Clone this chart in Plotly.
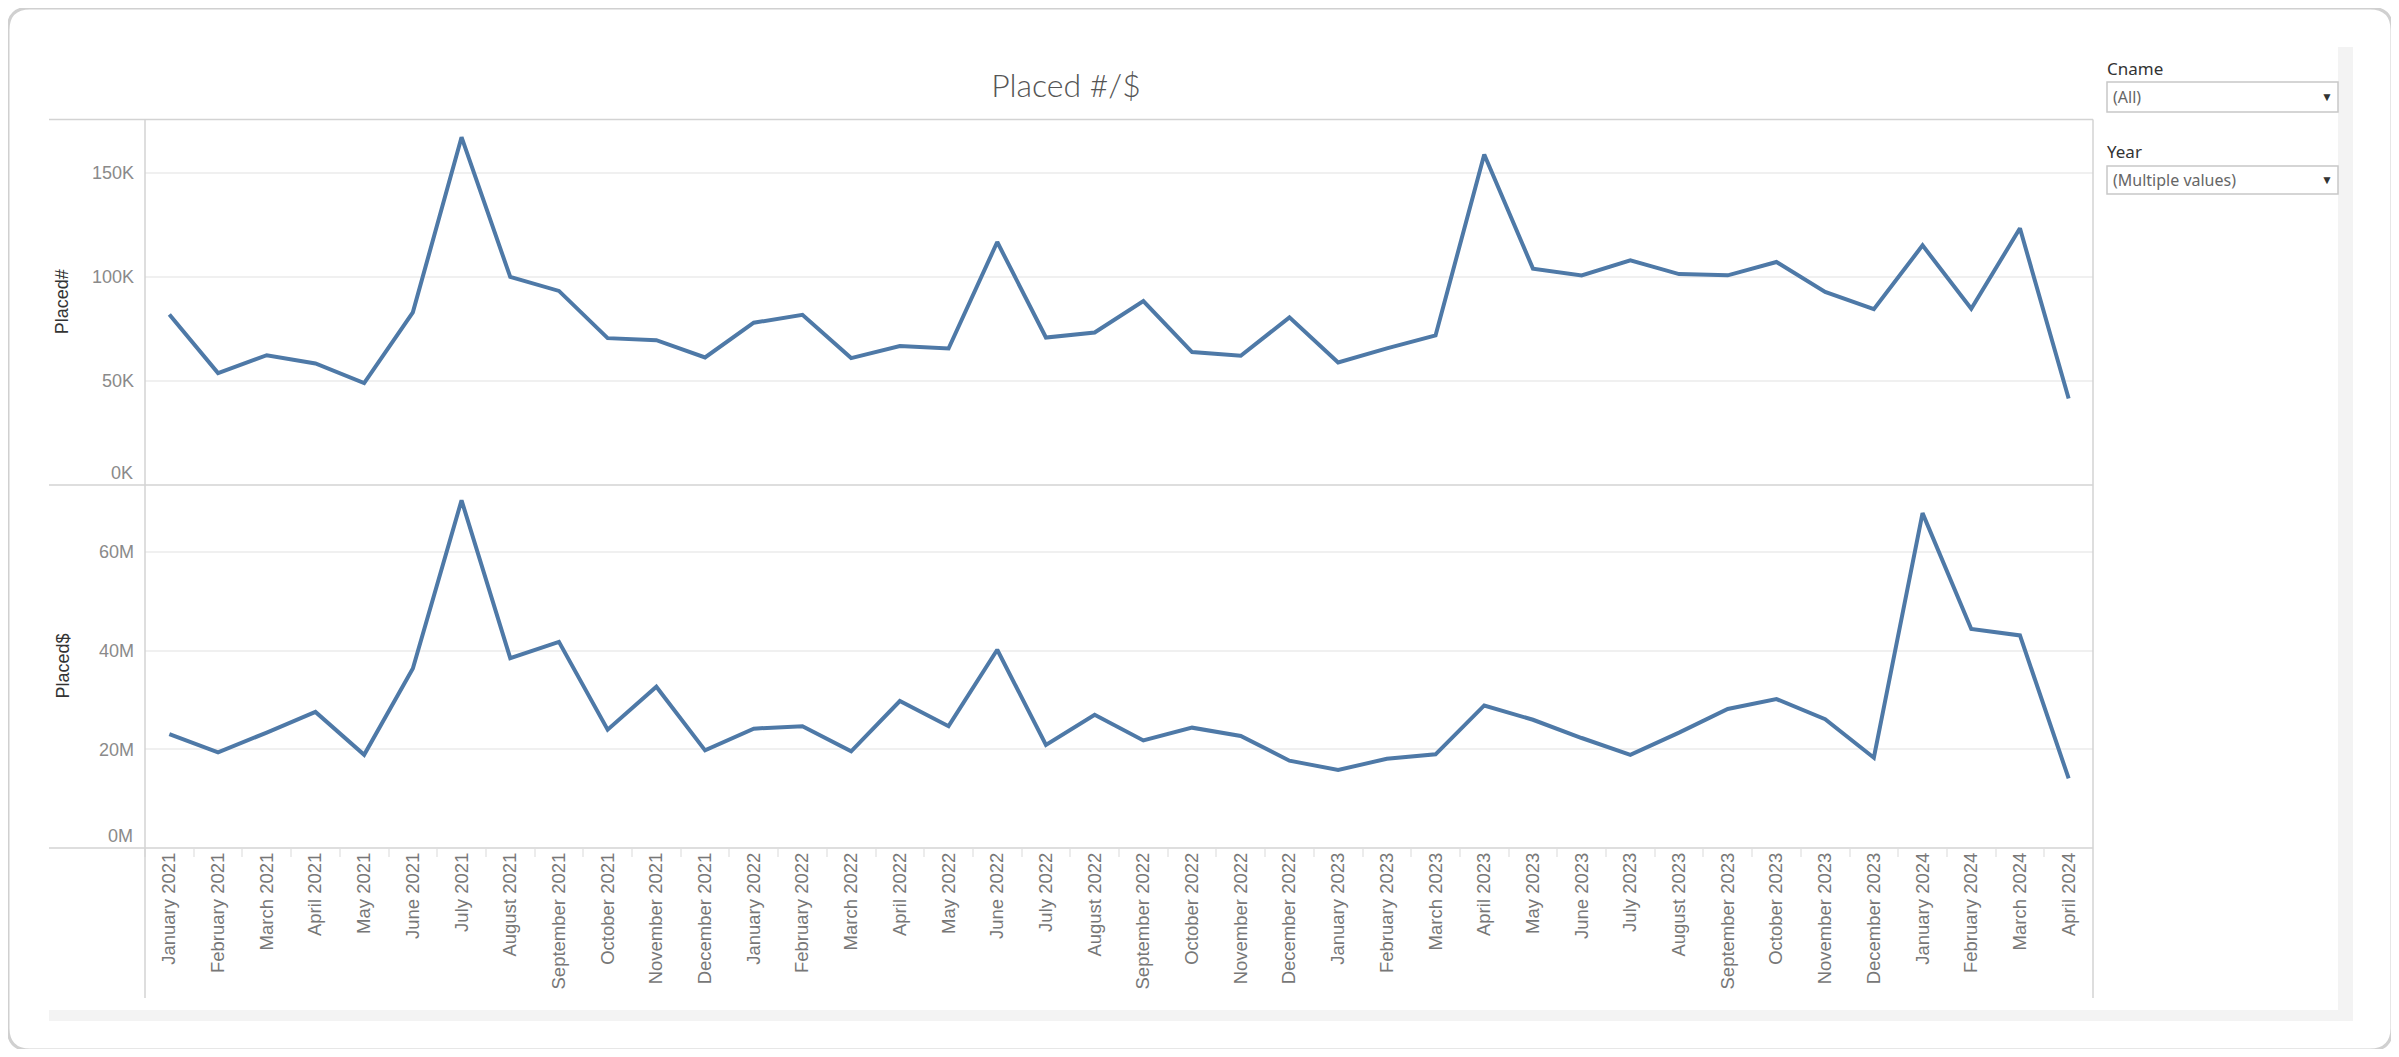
import plotly.graph_objects as go
from plotly.subplots import make_subplots

# ---------------------------------------------------------
# Data
# ---------------------------------------------------------
meses = [
    "January 2021", "February 2021", "March 2021", "April 2021", "May 2021", "June 2021",
    "July 2021", "August 2021", "September 2021", "October 2021", "November 2021", "December 2021",
    "January 2022", "February 2022", "March 2022", "April 2022", "May 2022", "June 2022",
    "July 2022", "August 2022", "September 2022", "October 2022", "November 2022", "December 2022",
    "January 2023", "February 2023", "March 2023", "April 2023", "May 2023", "June 2023",
    "July 2023", "August 2023", "September 2023", "October 2023", "November 2023", "December 2023",
    "January 2024", "February 2024", "March 2024", "April 2024",
]

placed_num = [
    82000, 53800, 62400, 58400, 49000, 83000, 167200, 100000, 93300, 70600, 69600, 61300,
    78000, 81800, 61000, 66800, 65600, 116800, 70900, 73300, 88400, 63900, 62100, 80600,
    58900, 65700, 71900, 158900, 104000, 100700, 108000, 101400, 100800, 107200, 92800, 84500,
    115200, 84700, 123400, 41600,
]

placed_usd = [
    23.1e6, 19.4e6, 23.4e6, 27.6e6, 18.9e6, 36.4e6, 70.5e6, 38.5e6, 41.8e6, 24.0e6, 32.7e6, 19.8e6,
    24.2e6, 24.7e6, 19.6e6, 29.8e6, 24.7e6, 40.2e6, 20.9e6, 27.0e6, 21.8e6, 24.4e6, 22.7e6, 17.7e6,
    15.8e6, 18.1e6, 19.0e6, 28.9e6, 26.0e6, 22.3e6, 18.9e6, 23.4e6, 28.2e6, 30.2e6, 26.1e6, 18.3e6,
    67.9e6, 44.4e6, 43.1e6, 14.1e6,
]

ticks_num = [50000, 100000, 150000]
ticks_num_txt = ["50K", "100K", "150K"]
ticks_usd = [20e6, 40e6, 60e6]
ticks_usd_txt = ["20M", "40M", "60M"]

# ---------------------------------------------------------
# Page geometry: screen pixels -> paper (the page body has an 8px margin)
# ---------------------------------------------------------
OFF = 8
W, H = 2399 - 2 * OFF, 1057 - 2 * OFF


def px(x):
    return (x - OFF) / W


def py(y):
    return 1 - (y - OFF) / H


AZUL = "#4e79a7"
BORDE = "#d3d3d3"
FUENTE = "Liberation Sans, Arial, sans-serif"
FUENTE_FILTRO = "Noto Sans, sans-serif"

fig = make_subplots(rows=2, cols=1, shared_xaxes=True, vertical_spacing=0)

fig.add_trace(go.Scatter(x=meses, y=placed_num, mode="lines",
                         line=dict(color=AZUL, width=4), showlegend=False,
                         hovertemplate="%{x}<br>Placed#: %{y:,}<extra></extra>"), row=1, col=1)
fig.add_trace(go.Scatter(x=meses, y=placed_usd, mode="lines",
                         line=dict(color=AZUL, width=4), showlegend=False,
                         hovertemplate="%{x}<br>Placed$: %{y:$,.0f}<extra></extra>"), row=2, col=1)

x_dom = [px(145), px(2093)]
fig.update_layout(
    width=W, height=H,
    margin=dict(l=0, r=0, t=0, b=0),
    paper_bgcolor="white", plot_bgcolor="white",
    font=dict(family=FUENTE, color="#7f7f7f"),
    title=dict(text="Placed #/$", x=px(1066), y=py(86), xref="paper", yref="paper",
               xanchor="center", yanchor="middle",
               font=dict(family="Lato, Open Sans, sans-serif", size=32, color="#555555", weight=300)),
    xaxis=dict(domain=x_dom, range=[-0.5, len(meses) - 0.5], showticklabels=False,
               showgrid=False, zeroline=False, showline=False, ticks=""),
    xaxis2=dict(domain=x_dom, range=[-0.5, len(meses) - 0.5], tickangle=-90,
                showgrid=False, zeroline=False, showline=False,
                ticks="outside", tickson="boundaries", ticklen=8, tickcolor="#ececec", tickwidth=1.5,
                tickfont=dict(family=FUENTE, size=18.5, color="#777777")),
    yaxis=dict(domain=[py(485), py(119.5)], range=[0, 175700],
               tickvals=ticks_num, ticktext=ticks_num_txt,
               showgrid=True, gridcolor="#f0f0f0", gridwidth=1.5,
               zeroline=False, showline=False, ticks="", ticklabelstandoff=10,
               tickfont=dict(family=FUENTE, size=18, color="#8a8a8a")),
    yaxis2=dict(domain=[py(848), py(485)], range=[0, 73.6e6],
                tickvals=ticks_usd, ticktext=ticks_usd_txt,
                showgrid=True, gridcolor="#f0f0f0", gridwidth=1.5,
                zeroline=False, showline=False, ticks="", ticklabelstandoff=10,
                tickfont=dict(family=FUENTE, size=18, color="#8a8a8a")),
)

# ---------------------------------------------------------
# Dashboard frame, panel borders, filter boxes
# ---------------------------------------------------------
L, T, R, B, r = 8, 8, 2392, 1050, 22
card = (f"M {px(L + r)},{py(T)} L {px(R - r)},{py(T)} Q {px(R)},{py(T)} {px(R)},{py(T + r)} "
        f"L {px(R)},{py(B - r)} Q {px(R)},{py(B)} {px(R - r)},{py(B)} "
        f"L {px(L + r)},{py(B)} Q {px(L)},{py(B)} {px(L)},{py(B - r)} "
        f"L {px(L)},{py(T + r)} Q {px(L)},{py(T)} {px(L + r)},{py(T)} Z")
shapes = [
    dict(type="path", path=card, xref="paper", yref="paper",
         line=dict(color="#d0d0d0", width=3), layer="below"),
    dict(type="rect", x0=px(49), x1=px(2353), y0=py(1021), y1=py(1010), xref="paper", yref="paper",
         fillcolor="#f3f3f3", line=dict(width=0), layer="below"),
    dict(type="rect", x0=px(2338), x1=px(2353), y0=py(1021), y1=py(47), xref="paper", yref="paper",
         fillcolor="#f3f3f3", line=dict(width=0), layer="below"),
]
for y in (119.5, 485, 848):
    shapes.append(dict(type="line", x0=px(49), x1=px(2093), y0=py(y), y1=py(y),
                       xref="paper", yref="paper", line=dict(color=BORDE, width=1.5)))
for x in (145, 2093):
    shapes.append(dict(type="line", x0=px(x), x1=px(x), y0=py(119.5), y1=py(998),
                       xref="paper", yref="paper", line=dict(color=BORDE, width=1.5)))
for y0, y1 in ((82, 112), (166, 194)):
    shapes.append(dict(type="rect", x0=px(2107), x1=px(2338), y0=py(y1), y1=py(y0),
                       xref="paper", yref="paper", fillcolor="white",
                       line=dict(color="#c8c8c8", width=1.5)))
fig.update_layout(shapes=shapes)

# axis titles, zero labels and filter texts
notas = [
    dict(text="Placed#", x=px(62), xanchor="center", y=0.5, yref="y domain", textangle=-90,
         font=dict(family=FUENTE, size=18, color="#333333")),
    dict(text="Placed$", x=px(62), xanchor="center", y=0.5, yref="y2 domain", textangle=-90,
         font=dict(family=FUENTE, size=18, color="#333333")),
    dict(text="0K", x=px(135), xanchor="right", y=0, yref="y", yanchor="bottom",
         font=dict(family=FUENTE, size=18, color="#8a8a8a")),
    dict(text="0M", x=px(135), xanchor="right", y=0, yref="y2", yanchor="bottom",
         font=dict(family=FUENTE, size=18, color="#8a8a8a")),
    dict(text="Cname", x=px(2105), y=py(69), xanchor="left",
         font=dict(family=FUENTE_FILTRO, size=17, color="#333333")),
    dict(text="(All)", x=px(2111), y=py(97), xanchor="left",
         font=dict(family=FUENTE_FILTRO, size=16, color="#666666")),
    dict(text="▼", x=px(2327), xanchor="center", y=py(97),
         font=dict(family=FUENTE, size=12, color="#333333")),
    dict(text="Year", x=px(2105), y=py(151), xanchor="left",
         font=dict(family=FUENTE_FILTRO, size=17, color="#333333")),
    dict(text="(Multiple values)", x=px(2111), y=py(180), xanchor="left",
         font=dict(family=FUENTE_FILTRO, size=16, color="#666666")),
    dict(text="▼", x=px(2327), xanchor="center", y=py(180),
         font=dict(family=FUENTE, size=12, color="#333333")),
]
for n in notas:
    n.setdefault("xref", "paper")
    n.setdefault("yref", "paper")
    n.setdefault("yanchor", "middle")
    n["showarrow"] = False
    fig.add_annotation(**n)

fig.write_html("out.html")
